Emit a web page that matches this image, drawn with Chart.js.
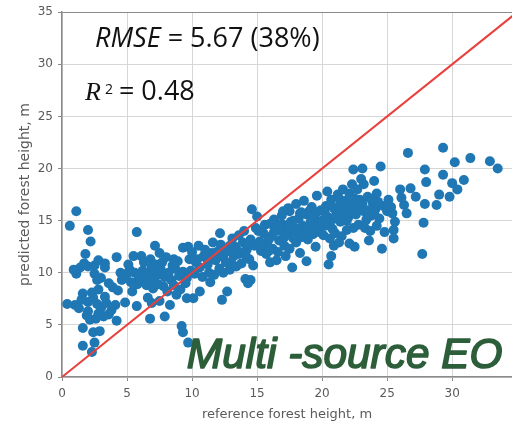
<!DOCTYPE html>
<html>
<head>
<meta charset="utf-8">
<script src="https://cdn.jsdelivr.net/npm/chart.js@4"></script>
<style>
  html, body { margin: 0; padding: 0; background: #fff; overflow: hidden; }
  #wrap { width: 512px; height: 427px; position: relative; }
</style>
</head>
<body>
<div id="wrap"><canvas id="c" width="512" height="427"></canvas></div>
<script>
// Validation plots: [reference height, predicted height] in metres, grouped by reference height class
const plotsUnder5m = [
  [1.1,15.9],[0.6,14.5],[2.0,14.1],[2.2,13.0],[1.8,11.8],[4.2,11.5],[2.8,11.2],[3.3,10.9],[1.4,10.5],[2.0,10.6],
  [1.1,9.9],[3.3,10.5],[2.5,9.9],[2.7,9.3],[3.6,9.0],[4.6,9.3],[4.5,10.0],[4.8,9.5],[1.6,8.0],[2.3,8.1],
  [1.0,6.9],[2.0,7.2],[2.4,7.6],[2.7,7.0],[3.3,7.7],[4.1,6.9],[4.85,7.15],[2.8,6.1],[2.0,6.3],[3.6,6.0],
  [3.0,6.6],[4.2,5.4],[2.15,5.5],[2.6,5.6],[1.6,4.7],[2.4,4.3],[2.9,4.4],[2.5,3.3],[1.6,3.0],[2.3,2.4],
  [0.4,7.0],[1.3,6.6],[3.9,8.6],[4.3,8.3],[3.0,9.5],[1.7,10.9],[0.9,10.3],[2.5,10.7],[3.8,6.4],[3.2,5.8],
  [1.9,5.9],[2.8,8.4],[1.5,7.4],[3.4,7.1]
];
const plots5to10m = [
  [5.75,13.9],[7.15,12.6],[5.5,11.6],[6.1,11.6],[7.5,11.9],[8.6,11.3],[9.3,12.4],[9.7,12.5],[7.7,11.0],[5.2,10.3],
  [5.6,10.0],[5.9,9.6],[6.2,10.2],[6.4,9.4],[6.7,9.9],[6.9,10.5],[7.1,9.2],[7.3,9.8],[7.6,10.3],[7.9,9.6],
  [8.2,10.0],[8.4,9.3],[8.7,10.4],[9.0,9.7],[9.3,10.1],[9.6,9.5],[5.3,9.1],[5.8,8.9],[6.0,9.2],[6.5,8.8],
  [7.0,8.5],[7.4,8.9],[7.8,8.7],[8.1,8.2],[8.6,8.8],[9.1,8.4],[9.5,9.0],[5.1,10.8],[6.3,11.0],[6.8,11.3],
  [8.0,11.5],[8.9,11.1],[9.8,11.3],[5.75,6.8],[6.9,7.1],[6.77,5.6],[7.9,5.8],[8.3,6.9],[9.6,7.55],[9.2,4.9],
  [9.3,4.3],[9.7,3.3],[5.4,8.2],[6.6,7.6],[7.5,7.3],[8.8,7.9],[5.0,9.9],[7.2,10.8],[8.5,10.7],[9.9,10.2]
];
const plots10to15m = [
  [10.1,7.55],[10.6,8.2],[11.4,9.1],[12.3,7.4],[12.7,8.2],[14.1,9.4],[14.5,9.3],[14.3,9.0],[12.15,13.8],[10.0,12.0],
  [10.3,11.0],[10.6,10.5],[10.9,11.6],[11.2,10.8],[11.5,11.9],[11.8,11.2],[12.1,10.4],[12.4,11.5],[12.7,12.2],[13.0,11.0],
  [13.3,12.5],[13.6,11.8],[13.9,12.9],[14.2,12.2],[14.5,13.2],[14.8,12.6],[10.2,9.9],[10.8,9.6],[11.3,10.0],[11.7,9.8],
  [12.4,10.0],[12.9,10.3],[13.4,10.6],[13.8,10.9],[14.4,11.3],[14.7,10.7],[10.5,12.6],[11.0,12.2],[11.6,12.9],[12.2,12.7],
  [13.1,13.3],[13.6,13.6],[14.0,14.0],[14.6,16.1],[15.0,15.4],[14.9,14.3],[11.9,12.0],[12.6,11.0],[13.2,11.6],[14.1,11.7],
  [10.4,11.3],[11.1,11.4],[11.6,11.5],[12.0,11.9],[12.9,12.6],[13.5,12.1],[14.3,12.8],[13.0,12.0],[12.5,12.3]
];
const plots15to20m = [
  [17.5,15.9],[19.6,17.4],[18.3,15.7],[16.0,11.0],[17.7,10.5],[18.8,11.1],[15.2,13.0],[15.5,13.8],[15.8,12.6],[16.1,13.5],
  [16.4,14.2],[16.7,13.1],[17.0,14.6],[17.3,13.8],[17.6,14.9],[17.9,14.0],[18.2,15.2],[18.5,14.5],[18.8,15.6],[19.1,14.8],
  [19.4,15.5],[19.7,14.6],[15.3,12.1],[15.7,11.8],[16.2,12.3],[16.6,12.0],[17.1,12.6],[17.5,12.3],[18.0,12.9],[18.4,13.4],
  [18.9,13.2],[19.3,13.7],[19.8,13.9],[15.6,14.6],[16.3,15.1],[16.9,15.5],[17.4,16.2],[18.0,16.6],[18.6,16.9],[19.2,16.3],
  [19.9,16.0],[15.1,14.0],[16.5,11.2],[17.2,11.6],[18.3,11.9],[19.5,12.5],[19.0,15.9],[16.8,14.0],[18.7,14.2],[17.8,13.3],
  [15.4,12.8],[15.9,13.2],[16.3,13.9],[16.7,14.6],[17.1,13.4],[17.4,14.3],[17.8,15.0],[18.1,14.2],[18.4,15.8],[18.9,14.0],
  [19.2,15.1],[19.6,15.8],[19.8,14.9],[16.0,14.7],[17.0,15.9],[18.6,13.6],[19.4,14.1],[15.9,12.1]
];
const plots20to25m = [
  [20.9,12.6],[20.7,11.6],[20.5,10.8],[22.5,12.5],[23.6,13.1],[22.4,19.9],[23.1,20.0],[24.5,20.2],[22.3,18.5],[23.2,18.5],
  [24.2,17.6],[23.9,16.7],[20.2,14.5],[20.5,15.3],[20.8,14.2],[21.1,15.8],[21.4,14.9],[21.7,16.2],[22.0,15.3],[22.3,16.6],
  [22.6,15.6],[22.9,17.0],[23.2,15.9],[23.5,17.3],[23.8,15.5],[24.1,16.1],[24.4,15.2],[24.7,16.4],[20.3,16.4],[20.7,17.0],
  [21.2,17.5],[21.6,18.0],[22.1,17.6],[22.7,18.0],[20.1,13.6],[20.6,13.3],[21.0,13.8],[21.5,13.5],[21.9,14.1],[22.4,14.3],
  [22.8,14.6],[23.3,14.3],[23.7,14.0],[24.2,14.5],[21.3,12.9],[22.1,12.8],[24.8,13.9],[24.6,12.3],[20.0,15.0],[21.8,16.9],
  [23.0,19.0],[20.4,17.8],[24.0,18.8],[20.2,15.8],[20.6,14.8],[21.0,15.2],[21.3,16.4],[21.6,15.5],[21.9,15.0],[22.2,15.9],
  [22.5,17.1],[22.8,16.3],[23.1,16.6],[23.4,15.1],[23.6,16.0],[24.0,15.7],[24.3,16.8],[21.4,17.0],[22.0,16.5],[20.9,16.2],
  [23.8,17.0]
];
const plotsOver25m = [
  [26.6,21.5],[29.3,22.0],[31.4,21.0],[32.9,20.7],[33.5,20.0],[30.2,20.6],[27.9,19.9],[29.3,19.4],[30.9,18.9],[28.0,18.7],
  [30.0,18.6],[26.0,18.0],[26.8,18.1],[30.4,18.0],[29.0,17.5],[29.8,17.3],[27.2,17.3],[25.1,17.0],[27.9,16.6],[28.8,16.5],
  [26.3,16.5],[26.5,15.7],[25.0,15.9],[25.4,15.7],[27.8,14.8],[25.6,14.9],[25.5,14.1],[25.5,13.3],[27.7,11.8],[25.3,16.3],
  [26.1,17.2]
];

// 1:1 reference line end points (m)
const oneToOne = [0, 35];
// Axis range and tick spacing (m)
const xMax = 34.6;
const yMax = 35;
const tickStep = 5;

// Text placed in data coordinates [x, y baseline]
const statsAnchor = [2.54, 31.7];
const r2Anchor = [1.77, 26.6];
const sourceAnchor = [9.6, 0.85];
const sourceWidth = 316;

const points = [].concat(plotsUnder5m, plots5to10m, plots10to15m, plots15to20m, plots20to25m, plotsOver25m)
  .map(p => ({ x: p[0], y: p[1] }));

const labelPlugin = {
  id: 'statsText',
  afterDraw(chart) {
    const { ctx, scales } = chart;
    const xs = scales.x, ys = scales.y;
    ctx.save();
    ctx.textBaseline = 'alphabetic';
    ctx.textAlign = 'left';
    ctx.fillStyle = '#111';

    // RMSE line
    let px = xs.getPixelForValue(statsAnchor[0]);
    let py = ys.getPixelForValue(statsAnchor[1]);
    ctx.font = 'italic 27px "Open Sans"';
    ctx.fillText('RMSE', px, py);
    px += ctx.measureText('RMSE').width;
    ctx.font = '27px "Open Sans"';
    ctx.fillText(' = 5.67 (38%)', px, py);

    // R squared line
    px = xs.getPixelForValue(r2Anchor[0]);
    py = ys.getPixelForValue(r2Anchor[1]);
    ctx.font = 'italic 26px "Liberation Serif"';
    ctx.fillText('R', px, py);
    px += ctx.measureText('R').width + 4;
    ctx.font = '14px "Open Sans"';
    ctx.fillText('2', px, py - 6);
    px += ctx.measureText('2').width + 6;
    ctx.font = '27px "Open Sans"';
    ctx.fillText('= 0.48', px, py);

    // data source caption, sized to its span
    px = xs.getPixelForValue(sourceAnchor[0]);
    py = ys.getPixelForValue(sourceAnchor[1]);
    ctx.font = 'italic 43px "Liberation Sans"';
    const size = 43 * sourceWidth / ctx.measureText('Multi -source EO').width;
    ctx.font = 'italic ' + size.toFixed(1) + 'px "Liberation Sans"';
    ctx.fillStyle = '#2d5e3a';
    ctx.strokeStyle = '#2d5e3a';
    ctx.lineWidth = 1.6;
    ctx.lineJoin = 'round';
    ctx.strokeText('Multi -source EO', px, py);
    ctx.fillText('Multi -source EO', px, py);
    ctx.restore();
  }
};

const gridColor = '#d6d6d6';
const spineColor = '#8a8a8a';
const labelColor = '#5a5a5a';

new Chart(document.getElementById('c'), {
  type: 'scatter',
  data: {
    datasets: [
      {
        type: 'line',
        data: oneToOne.map(v => ({ x: v, y: v })),
        borderColor: '#e8403d',
        borderWidth: 2,
        pointRadius: 0,
        fill: false,
        order: 0
      },
      {
        data: points,
        backgroundColor: '#1f77b4',
        borderWidth: 0,
        pointRadius: 5,
        order: 1
      }
    ]
  },
  options: {
    responsive: false,
    animation: false,
    devicePixelRatio: 1,
    layout: { autoPadding: false, padding: { top: 5, right: 0, bottom: 0, left: 0 } },
    plugins: { legend: { display: false }, tooltip: { enabled: false } },
    scales: {
      x: {
        type: 'linear',
        min: 0,
        max: xMax,
        afterFit(scale) { scale.height = 50; },
        ticks: {
          stepSize: tickStep,
          includeBounds: false,
          color: labelColor,
          font: { family: 'DejaVu Sans', size: 12 },
          padding: 6,
          maxRotation: 0
        },
        grid: { color: gridColor, lineWidth: 1, tickLength: 4, tickColor: spineColor },
        border: { color: spineColor, width: 1.5 },
        title: {
          display: true,
          text: 'reference forest height, m',
          color: labelColor,
          font: { family: 'DejaVu Sans', size: 13 },
          padding: { top: 0, bottom: 5 }
        }
      },
      y: {
        type: 'linear',
        min: 0,
        max: yMax,
        afterFit(scale) { scale.width = 62; },
        ticks: {
          stepSize: tickStep,
          color: labelColor,
          font: { family: 'DejaVu Sans', size: 12 },
          padding: 5
        },
        grid: {
          color: ctx => (ctx.tick && ctx.tick.value === yMax ? spineColor : gridColor),
          lineWidth: 1,
          tickLength: 4,
          tickColor: spineColor
        },
        border: { color: spineColor, width: 1.5 },
        title: {
          display: true,
          text: 'predicted forest height, m',
          color: labelColor,
          font: { family: 'DejaVu Sans', size: 14 },
          padding: { top: 17, bottom: 0 }
        }
      }
    }
  },
  plugins: [labelPlugin]
});
</script>
</body>
</html>
